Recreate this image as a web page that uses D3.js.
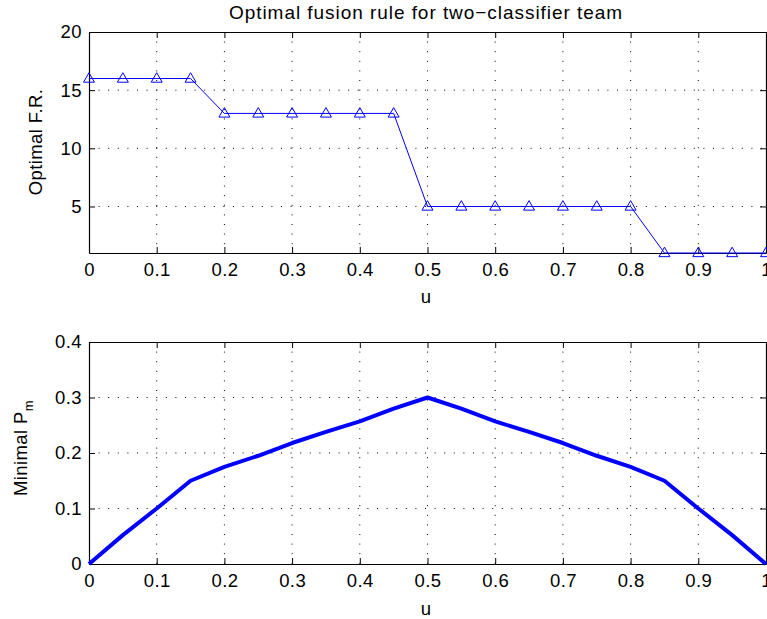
<!DOCTYPE html>
<html>
<head>
<meta charset="utf-8">
<script src="https://cdn.jsdelivr.net/npm/d3@7"></script>
<style>
  html, body { margin: 0; padding: 0; background: #fff; }
  svg { display: block; font-family: "Liberation Sans", Arial, Helvetica, sans-serif; }
</style>
</head>
<body>
<svg id="chart" width="767" height="619"></svg>
<script>
// Sweep parameter u
const uValues = [0, 0.05, 0.1, 0.15, 0.2, 0.25, 0.3, 0.35, 0.4, 0.45, 0.5,
                 0.55, 0.6, 0.65, 0.7, 0.75, 0.8, 0.85, 0.9, 0.95, 1];
// Index of the optimal fusion rule at each u
const optimalRule = [16, 16, 16, 16, 13, 13, 13, 13, 13, 13, 5,
                     5, 5, 5, 5, 5, 5, 1, 1, 1, 1];
// Minimal probability of misclassification at each u
const minimalPm = [0, 0.052, 0.1, 0.15, 0.175, 0.195, 0.218, 0.238, 0.257, 0.28, 0.30,
                   0.28, 0.257, 0.238, 0.218, 0.195, 0.175, 0.15, 0.1, 0.052, 0];

const xTicks = [0, 0.1, 0.2, 0.3, 0.4, 0.5, 0.6, 0.7, 0.8, 0.9, 1];
const yTicksTop = [5, 10, 15, 20];
const yTicksBottom = [0, 0.1, 0.2, 0.3, 0.4];

const svg = d3.select("#chart");
const left = 89, right = 766;
const fontSize = 18.5;
const spacing = "0.4px";

function tickFmt(d) { return d3.format("~g")(d); }

function panel(cfg) {
  const x = d3.scaleLinear().domain([0, 1]).range([left, right]);
  const y = d3.scaleLinear().domain(cfg.yDomain).range([cfg.bottom, cfg.top]);
  const g = svg.append("g");

  // dotted grid
  g.append("g").selectAll("line").data(xTicks.slice(1, -1)).join("line")
    .attr("x1", d => x(d)).attr("x2", d => x(d))
    .attr("y1", cfg.top).attr("y2", cfg.bottom)
    .attr("stroke", "#000").attr("stroke-width", 1)
    .attr("stroke-dasharray", "1,8.6");
  g.append("g").selectAll("line").data(cfg.yTicks.filter(t => y(t) > cfg.top + 1 && y(t) < cfg.bottom - 1)).join("line")
    .attr("x1", left).attr("x2", right)
    .attr("y1", d => y(d)).attr("y2", d => y(d))
    .attr("stroke", "#000").attr("stroke-width", 1)
    .attr("stroke-dasharray", "1,8.6");

  // axes with inward ticks on all four sides
  const axB = d3.axisBottom(x).tickValues(xTicks).tickSizeInner(-6).tickSizeOuter(0).tickPadding(10).tickFormat(tickFmt);
  const axT = d3.axisTop(x).tickValues(xTicks).tickSizeInner(-6).tickSizeOuter(0).tickFormat("");
  const axL = d3.axisLeft(y).tickValues(cfg.yTicks).tickSizeInner(-6).tickSizeOuter(0).tickPadding(7).tickFormat(tickFmt);
  const axR = d3.axisRight(y).tickValues(cfg.yTicks).tickSizeInner(-6).tickSizeOuter(0).tickFormat("");

  const style = sel => {
    sel.select(".domain").attr("stroke", "#000").attr("stroke-width", 1.2);
    sel.selectAll(".tick line").attr("stroke", "#000");
    sel.selectAll(".tick text").attr("fill", "#000").attr("font-size", fontSize)
      .attr("letter-spacing", spacing)
      .attr("font-family", "'Liberation Sans', Arial, sans-serif");
  };
  g.append("g").attr("transform", `translate(0,${cfg.bottom})`).call(axB).call(style);
  g.append("g").attr("transform", `translate(0,${cfg.top})`).call(axT).call(style);
  g.append("g").attr("transform", `translate(${left},0)`).call(axL).call(style);
  g.append("g").attr("transform", `translate(${right},0)`).call(axR).call(style);

  return { x, y, g };
}

// ---- Upper panel: optimal fusion rule ----
const top1 = panel({ top: 32, bottom: 253, yDomain: [1, 20], yTicks: yTicksTop });
const pts1 = uValues.map((u, i) => [u, optimalRule[i]]);
top1.g.append("path").datum(pts1)
  .attr("fill", "none").attr("stroke", "#0000ff").attr("stroke-width", 1)
  .attr("d", d3.line().x(d => top1.x(d[0])).y(d => top1.y(d[1])));
const tri = d3.symbol().type(d3.symbolTriangle).size(52);
top1.g.append("g").selectAll("path").data(pts1).join("path")
  .attr("transform", d => `translate(${top1.x(d[0])},${top1.y(d[1]) + 0.5})`)
  .attr("d", tri)
  .attr("fill", "none").attr("stroke", "#0000ff").attr("stroke-width", 1);

svg.append("text").attr("x", 426).attr("y", 19).attr("text-anchor", "middle")
  .attr("font-size", 19).attr("letter-spacing", "0.95px")
  .text("Optimal fusion rule for two\u2212classifier team");
svg.append("text").attr("x", 426).attr("y", 303).attr("text-anchor", "middle")
  .attr("font-size", fontSize).text("u");
svg.append("text").attr("transform", "translate(42,142) rotate(-90)").attr("text-anchor", "middle")
  .attr("font-size", fontSize).attr("letter-spacing", spacing).text("Optimal F.R.");

// ---- Lower panel: minimal P_m ----
const bot = panel({ top: 342, bottom: 564, yDomain: [0, 0.4], yTicks: yTicksBottom });
bot.g.append("path").datum(uValues.map((u, i) => [u, minimalPm[i]]))
  .attr("fill", "none").attr("stroke", "#0000ff").attr("stroke-width", 4)
  .attr("stroke-linejoin", "round")
  .attr("d", d3.line().x(d => bot.x(d[0])).y(d => bot.y(d[1])));

svg.append("text").attr("x", 426).attr("y", 615).attr("text-anchor", "middle")
  .attr("font-size", fontSize).text("u");
const yl = svg.append("text").attr("transform", "translate(27,448) rotate(-90)").attr("text-anchor", "middle")
  .attr("font-size", fontSize).attr("letter-spacing", spacing);
yl.append("tspan").text("Minimal P");
yl.append("tspan").attr("font-size", 13).attr("dy", 6).text("m");
</script>
</body>
</html>
